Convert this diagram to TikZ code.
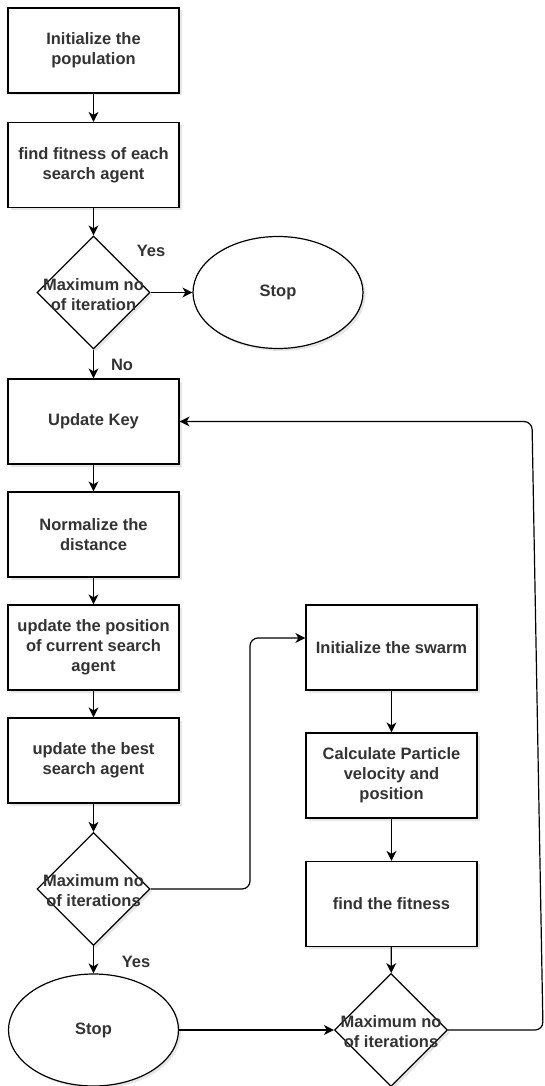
\documentclass[tikz,border=0pt]{standalone}
\usepackage{fontspec}
\setsansfont{Liberation Sans}
\usetikzlibrary{shapes.geometric,arrows.meta,shadows}
\definecolor{txtgray}{HTML}{333333}
\begin{document}
\begin{tikzpicture}[x=1pt,y=-1pt,line width=1.2pt,
  >={Stealth[length=10pt,width=10pt,inset=3pt]},
  every node/.style={font=\sffamily\bfseries\fontsize{16.5}{20}\selectfont,text=txtgray,align=center},
  shade/.style={drop shadow={opacity=0.2,shadow xshift=2.5pt,shadow yshift=-2.5pt}},
  process/.style={draw,fill=white,shade,minimum width=171pt,minimum height=85pt,inner sep=0pt},
  decision/.style={draw,diamond,fill=white,shade,minimum width=113pt,minimum height=113pt,inner sep=0pt},
  terminal/.style={draw,ellipse,fill=white,shade,minimum width=170pt,minimum height=112pt,inner sep=0pt}]
\useasboundingbox (0,0) rectangle (545,1086);
\node[process] (init) at (93.5,50.5) {Initialize the\\population};
\node[process] (fit) at (93.5,165) {find fitness of each\\search agent};
\node[decision] (max1) at (93.5,292.5) {};
\node (max1txt) at (93.5,295) {Maximum no\\of iteration};
\node[terminal] (stop1) at (278,292.5) {Stop};
\node[process] (key) at (93.5,421.5) {Update Key};
\node[process] (norm) at (93.5,534.5) {Normalize the\\distance};
\node[process] (pos) at (93.5,647.5) {update the position\\of current search\\agent};
\node[process] (best) at (93.5,760.5) {update the best\\search agent};
\node[decision] (max2) at (93.5,889) {};
\node (max2txt) at (93.5,891) {Maximum no\\of iterations};
\node[terminal] (stop2) at (93.5,1030) {Stop};
\node[process] (swarm) at (391.5,647.5) {Initialize the swarm};
\node[process] (vel) at (391.5,775.5) {Calculate Particle\\velocity and\\position};
\node[process] (pfit) at (391.5,904) {find the fitness};
\node[decision] (max3) at (391,1030) {};
\node (max3txt) at (391,1032) {Maximum no\\of iterations};
\node (yes1) at (151,251) {Yes};
\node (no1) at (122,365) {No};
\node (yes2) at (136,962) {Yes};
\draw[->] (init)--(fit);
\draw[->] (fit)--(max1);
\draw[->] (max1)--(stop1);
\draw[->] (max1)--(key);
\draw[->] (key)--(norm);
\draw[->] (norm)--(pos);
\draw[->] (pos)--(best);
\draw[->] (best)--(max2);
\draw[->] (max2)--(stop2);
\draw[->] (swarm)--(vel);
\draw[->] (vel)--(pfit);
\draw[->] (pfit)--(max3);
\draw[->] (stop2)--(max3);
\draw[->,rounded corners=8pt] (max2.east)--(250,889)|-([yshift=9.5pt]swarm.west);
\draw[->,rounded corners=8pt] (max3.east)--(543,1030)--(532,421.5)--(key.east);
\end{tikzpicture}
\end{document}
